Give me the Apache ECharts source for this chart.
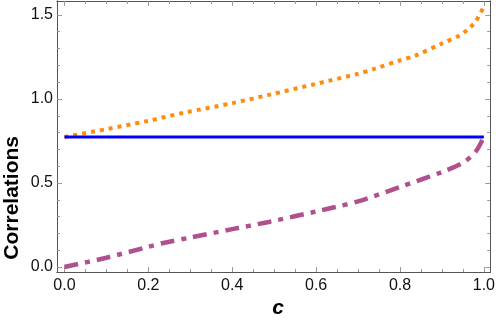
<!DOCTYPE html>
<html>
<head>
<meta charset="utf-8">
<script src="https://cdn.jsdelivr.net/npm/echarts@6/dist/echarts.min.js"></script>
<style>
  html, body { margin: 0; padding: 0; background: #fff; }
  #chart { width: 498px; height: 324px; }
</style>
</head>
<body>
<div id="chart"></div>
<script>
// values
const upperC = [0, 0.1, 0.2, 0.283, 0.4, 0.487, 0.6, 0.629, 0.7, 0.74, 0.8, 0.835, 0.9, 0.94, 0.96, 0.98, 1.0];
const upperVal = [0.774, 0.82, 0.87, 0.917, 0.975, 1.024, 1.09, 1.107, 1.15, 1.18, 1.23, 1.256, 1.33, 1.375, 1.41, 1.46, 1.55];

const flatC = [0, 1];
const flatVal = [0.774, 0.774];

const lowerC = [0, 0.1, 0.2, 0.236, 0.3, 0.4, 0.487, 0.6, 0.646, 0.7, 0.8, 0.9, 0.95, 0.98, 1.0];
const lowerVal = [0, 0.055, 0.12, 0.143, 0.175, 0.225, 0.268, 0.33, 0.357, 0.39, 0.476, 0.565, 0.62, 0.685, 0.774];

const xTicks = [0, 0.2, 0.4, 0.6, 0.8, 1.0];
const xMinor = [0.05, 0.1, 0.15, 0.25, 0.3, 0.35, 0.45, 0.5, 0.55, 0.65, 0.7, 0.75, 0.85, 0.9, 0.95];
const yTicks = [0, 0.5, 1.0, 1.5];
const yMinor = [0.1, 0.2, 0.3, 0.4, 0.6, 0.7, 0.8, 0.9, 1.1, 1.2, 1.3, 1.4];

const xMin = -0.0178, xMax = 1.015;
const yMin = -0.03, yMax = 1.583;

function pairs(xs, ys) {
  return xs.map((x, i) => [x, ys[i]]);
}

const frameColor = "#555";
const font = "'Liberation Sans', Arial, sans-serif";

function xAx(pos, ticks, len, labels) {
  return {
    type: "value", position: pos, min: xMin, max: xMax,
    splitLine: { show: false },
    axisLine: { show: true, onZero: false, lineStyle: { color: frameColor, width: 1 } },
    axisTick: { show: true, inside: true, length: len, customValues: ticks, lineStyle: { color: "#999" } },
    axisLabel: labels ? {
      show: true, customValues: ticks, color: "#111", fontSize: 16, fontFamily: font, margin: 6,
      formatter: v => v.toFixed(1)
    } : { show: false }
  };
}
function yAx(pos, ticks, len, labels) {
  return {
    type: "value", position: pos, min: yMin, max: yMax,
    splitLine: { show: false },
    axisLine: { show: true, onZero: false, lineStyle: { color: frameColor, width: 1 } },
    axisTick: { show: true, inside: true, length: len, customValues: ticks, lineStyle: { color: "#999" } },
    axisLabel: labels ? {
      show: true, customValues: ticks, color: "#111", fontSize: 16, fontFamily: font, margin: 4,
      formatter: v => v.toFixed(1)
    } : { show: false }
  };
}

const chart = echarts.init(document.getElementById("chart"));
chart.setOption({
  backgroundColor: "#fff",
  animation: false,
  grid: { left: 57, right: 5, top: 1, bottom: 52 },
  xAxis: [
    xAx("bottom", xTicks, 5, true),
    xAx("bottom", xMinor, 3, false),
    xAx("top", xTicks, 5, false),
    xAx("top", xMinor, 3, false)
  ],
  yAxis: [
    yAx("left", yTicks, 5, true),
    yAx("left", yMinor, 3, false),
    yAx("right", yTicks, 5, false),
    yAx("right", yMinor, 3, false)
  ],
  graphic: [
    {
      type: "text", left: 2, top: 136, rotation: Math.PI / 2, originX: 0, originY: 0,
      style: {
        text: "Correlations", fill: "#000", font: "bold 21px " + font,
        textAlign: "center", textVerticalAlign: "middle"
      },
      x: 11, y: 136
    },
    {
      type: "text", x: 278, y: 308,
      style: {
        text: "c", fill: "#000", font: "italic bold 21px " + font,
        textAlign: "center", textVerticalAlign: "middle"
      }
    }
  ],
  series: [
    {
      type: "line", data: pairs(upperC, upperVal), smooth: 0.3, showSymbol: false,
      lineStyle: { color: "#ff8c0a", width: 4, type: [4, 5], cap: "butt" }
    },
    {
      type: "line", data: pairs(flatC, flatVal), showSymbol: false,
      lineStyle: { color: "#0000ff", width: 3 }
    },
    {
      type: "line", data: pairs(lowerC, lowerVal), smooth: 0.3, showSymbol: false,
      lineStyle: { color: "#b0508c", width: 4.5, type: [14, 7, 5, 7], cap: "butt" }
    }
  ]
});
</script>
</body>
</html>
